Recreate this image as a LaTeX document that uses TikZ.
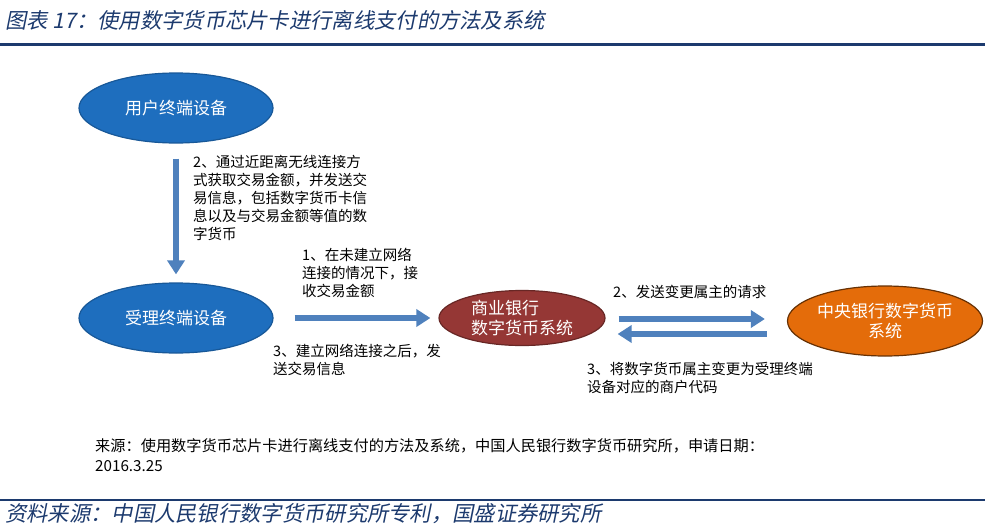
\documentclass[tikz,border=0pt]{standalone}
\usepackage{fontspec}
\setmainfont{Noto Sans CJK SC}
\newfontfamily\slcjk[FakeSlant=0.2]{Noto Sans CJK SC}
\usetikzlibrary{arrows.meta,positioning,shapes.geometric}

\definecolor{navy}{RGB}{28,58,110}
\definecolor{arrowblue}{RGB}{79,129,189}
\definecolor{devblue}{RGB}{30,110,190}
\definecolor{bankred}{RGB}{149,55,53}
\definecolor{cbankorange}{RGB}{228,108,10}

\begin{document}
\begin{tikzpicture}[
  x=1pt,y=-1pt,
  line/.style={-{Triangle[length=14pt,width=17pt]},line width=5.5pt,draw=arrowblue},
  dev/.style={ellipse,draw=devblue!80!black,line width=1.2pt,fill=devblue,text=white,minimum width=194pt,minimum height=70pt,inner sep=0pt,font=\fontsize{17}{20}\selectfont},
  sys/.style={dev,align=center},
  lbl/.style={inner sep=0pt,align=left,anchor=north west,font=\fontsize{14.5}{18}\selectfont},
  head/.style={anchor=west,inner sep=0pt,text=navy,font=\slcjk\fontsize{21.3}{24}\selectfont}
]
\useasboundingbox (0,0) rectangle (985,530);

% Title and rules
\node[head] (title) at (5,20) {图表 17：使用数字货币芯片卡进行离线支付的方法及系统};
\draw[navy,line width=3pt] (0,44) -- (985,44);
\draw[navy,line width=2.5pt] (0,500) -- (985,500);
\node[head] (src) at (5,514) {资料来源：中国人民银行数字货币研究所专利，国盛证券研究所};

% Devices and systems
\node[dev] (user) at (176,108) {用户终端设备};
\node[dev] (acq) at (176,318) {受理终端设备};
\node[sys,fill=bankred,draw=bankred!70!black,minimum width=166pt,minimum height=55pt,align=left] (bank) at (522,318) {商业银行\\数字货币系统};
\node[sys,fill=cbankorange,draw=black!55!cbankorange,minimum width=195pt] (cbank) at (885,321) {中央银行数字货币\\系统};

% Flows
\draw[line,shorten <=15pt,shorten >=8pt] (user) -- (acq);
\draw[line,shorten <=21pt,shorten >=8pt] (acq) -- (bank);
\draw[line,shorten <=13pt,shorten >=22pt] ([yshift=-1pt]bank.east) -- ([yshift=-1pt]bank.east -| cbank.west);
\draw[line,shorten <=20pt,shorten >=12pt] ([yshift=-16pt]bank.east -| cbank.west) -- ([yshift=-16pt]bank.east);

% Step labels
\node[lbl] (step2a) at (193,155) {2、通过近距离无线连接方\\式获取交易金额，并发送交\\易信息，包括数字货币卡信\\息以及与交易金额等值的数\\字货币};
\node[lbl] (step1) at (302,248) {1、在未建立网络\\连接的情况下，接\\收交易金额};
\node[lbl] (step3a) at (273,344) {3、建立网络连接之后，发\\送交易信息};
\node[lbl] (step2b) at (613,285) {2、发送变更属主的请求};
\node[lbl] (step3b) at (587,362) {3、将数字货币属主变更为受理终端\\设备对应的商户代码};

% Source note
\node[lbl,font=\fontsize{15.2}{20}\selectfont] (note) at (95,438) {来源：使用数字货币芯片卡进行离线支付的方法及系统，中国人民银行数字货币研究所，申请日期：\\2016.3.25};

\end{tikzpicture}
\end{document}
